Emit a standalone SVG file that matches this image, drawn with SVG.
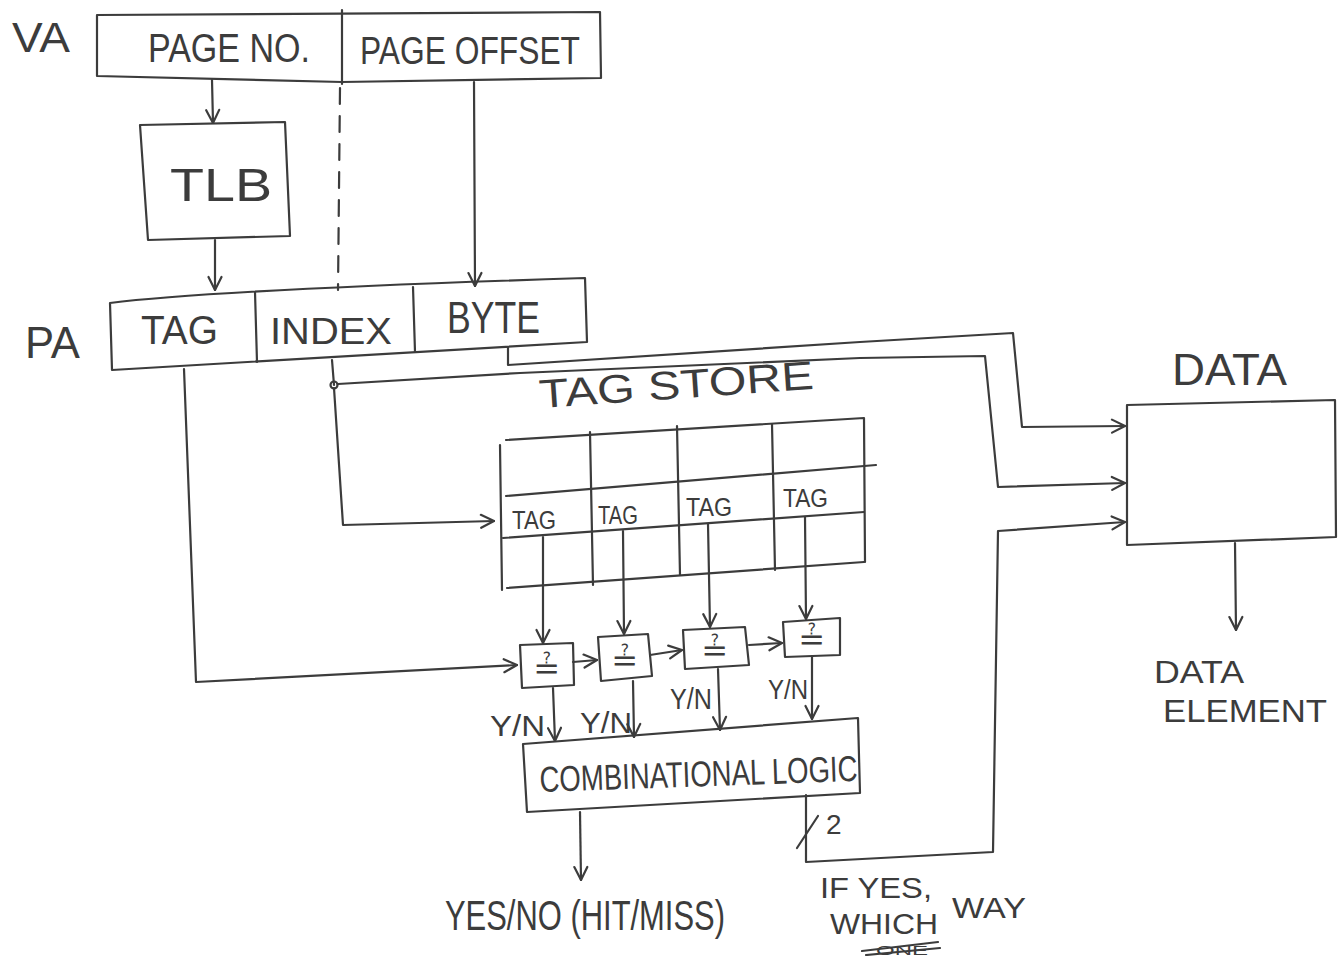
<svg xmlns="http://www.w3.org/2000/svg" width="1342" height="956" viewBox="0 0 1342 956">
<style>
.s{fill:none;stroke:#3c3c3c;stroke-width:2.2;stroke-linecap:round;stroke-linejoin:round}
.d{stroke-dasharray:16 12}
.t{font-family:"Liberation Sans",Arial,sans-serif;fill:#3c3c3c}
.q{font-family:"DejaVu Sans",sans-serif;fill:#3c3c3c;font-size:32px}
.a{marker-end:url(#arr)}
</style>
<defs>
<marker id="arr" viewBox="0 0 16 16" refX="15" refY="8" markerWidth="16" markerHeight="16" markerUnits="userSpaceOnUse" orient="auto">
<path d="M2,1.5 L15,8 L2,14.5" fill="none" stroke="#3c3c3c" stroke-width="2.2" stroke-linecap="round" stroke-linejoin="round"/>
</marker>
</defs>
<rect width="1342" height="956" fill="#ffffff"/>

<g id="va">
<text class="t" x="12" y="52" font-size="42" textLength="58" lengthAdjust="spacingAndGlyphs">VA</text>
<path class="s" d="M97,15 L600,12 L601,78 L342,82 L97,76 Z"/>
<path class="s" d="M342,10 L342,84"/>
<text class="t" x="148" y="62" font-size="40" textLength="162" lengthAdjust="spacingAndGlyphs">PAGE NO.</text>
<text class="t" x="360" y="64" font-size="38" textLength="220" lengthAdjust="spacingAndGlyphs">PAGE OFFSET</text>
</g>

<g id="tlb">
<path class="s" d="M140,125 L285,122 L290,236 L148,240 Z"/>
<text class="t" x="170" y="201" font-size="47" textLength="102" lengthAdjust="spacingAndGlyphs">TLB</text>
</g>

<g id="pa">
<text class="t" x="25" y="358" font-size="45" textLength="55" lengthAdjust="spacingAndGlyphs">PA</text>
<path class="s" d="M110,303 Q210,290 585,278 L587,342 L112,370 Z"/>
<path class="s" d="M255,292 L257,362"/>
<path class="s" d="M413,287 L415,352"/>
<text class="t" x="141" y="344" font-size="40" textLength="77" lengthAdjust="spacingAndGlyphs">TAG</text>
<text class="t" x="270" y="344" font-size="36" textLength="122" lengthAdjust="spacingAndGlyphs">INDEX</text>
<text class="t" x="447" y="333" font-size="45" textLength="93" lengthAdjust="spacingAndGlyphs">BYTE</text>
</g>

<g id="tag-store">
<text class="t" x="540" y="408" font-size="40" textLength="275" lengthAdjust="spacingAndGlyphs" transform="rotate(-4 540 408)">TAG STORE</text>
<path class="s" d="M506,440 L864,418 L865,562"/>
<path class="s" d="M500,445 L502,590"/>
<path class="s" d="M507,588 L864,562"/>
<path class="s" d="M506,496 L876,465"/>
<path class="s" d="M503,538 L864,512"/>
<path class="s" d="M590,432 L593,585"/>
<path class="s" d="M677,426 L680,575"/>
<path class="s" d="M772,424 L775,570"/>
<text class="t" x="512" y="529" font-size="26" textLength="44" lengthAdjust="spacingAndGlyphs">TAG</text>
<text class="t" x="598" y="524" font-size="26" textLength="40" lengthAdjust="spacingAndGlyphs">TAG</text>
<text class="t" x="686" y="516" font-size="26" textLength="46" lengthAdjust="spacingAndGlyphs">TAG</text>
<text class="t" x="783" y="507" font-size="26" textLength="45" lengthAdjust="spacingAndGlyphs">TAG</text>
</g>

<g id="cmp1">
<path class="s" d="M520,645 L573,643 L574,685 L522,688 Z"/>
<text class="q" x="547" y="679" text-anchor="middle">≟</text>
</g>
<g id="cmp2">
<path class="s" d="M598,637 L648,634 L652,676 L601,681 Z"/>
<text class="q" x="625" y="671" text-anchor="middle">≟</text>
</g>
<g id="cmp3">
<path class="s" d="M683,630 L745,627 L749,665 L685,669 Z"/>
<text class="q" x="715" y="661" text-anchor="middle">≟</text>
</g>
<g id="cmp4">
<path class="s" d="M783,622 L840,618 L840,655 L785,657 Z"/>
<text class="q" x="812" y="650" text-anchor="middle">≟</text>
</g>

<g id="yn-labels">
<text class="t" x="490" y="736" font-size="30" textLength="55" lengthAdjust="spacingAndGlyphs">Y/N</text>
<text class="t" x="580" y="733" font-size="30" textLength="52" lengthAdjust="spacingAndGlyphs">Y/N</text>
<text class="t" x="670" y="709" font-size="30" textLength="42" lengthAdjust="spacingAndGlyphs">Y/N</text>
<text class="t" x="768" y="699" font-size="28" textLength="40" lengthAdjust="spacingAndGlyphs">Y/N</text>
</g>

<g id="comb-logic">
<path class="s" d="M523,744 L858,718 L860,793 L527,812 Z"/>
<text class="t" x="540" y="792" font-size="36" textLength="318" lengthAdjust="spacingAndGlyphs" transform="rotate(-2 540 792)">COMBINATIONAL LOGIC</text>
</g>

<g id="hit-miss">
<text class="t" x="445" y="930" font-size="42" textLength="280" lengthAdjust="spacingAndGlyphs">YES/NO (HIT/MISS)</text>
</g>

<g id="which-way">
<text class="t" x="820" y="898" font-size="30" textLength="112" lengthAdjust="spacingAndGlyphs">IF YES,</text>
<text class="t" font-size="30"><tspan x="830" y="934" textLength="108" lengthAdjust="spacingAndGlyphs">WHICH</tspan><tspan x="952" y="918" textLength="74" lengthAdjust="spacingAndGlyphs">WAY</tspan></text>
<text class="t" x="876" y="955" font-size="13" textLength="52" lengthAdjust="spacingAndGlyphs">ONE</text>
<path class="s" d="M862,951 L938,942 M866,955 L940,948"/>
</g>

<g id="data">
<text class="t" x="1172" y="385" font-size="44" textLength="115" lengthAdjust="spacingAndGlyphs">DATA</text>
<path class="s" d="M1127,405 L1335,400 L1336,537 L1127,545 Z"/>
</g>

<g id="data-element">
<text class="t" x="1154" y="683" font-size="32" textLength="90" lengthAdjust="spacingAndGlyphs">DATA</text>
<text class="t" x="1163" y="722" font-size="32" textLength="164" lengthAdjust="spacingAndGlyphs">ELEMENT</text>
</g>

<g id="connectors">
<path class="s a" d="M212,80 L213,123"/>
<path class="s a" d="M215,240 L215,290"/>
<path class="s a" d="M474,82 L475,286"/>
<path class="s d" d="M340,88 L338,290"/>
<path class="s a" d="M184,369 L196,682 L517,665"/>
<path class="s" d="M332,360 L334,385"/>
<circle cx="334" cy="385" r="3.5" class="s"/>
<path class="s a" d="M334,388 L343,525 L494,521"/>
<path class="s a" d="M338,384 L520,373 L860,358 L985,356 L998,487 L1125,483"/>
<path class="s a" d="M508,347 L508,365 L860,342 L1013,333 L1022,427 L1125,426"/>
<path class="s a" d="M543,537 L543,643"/>
<path class="s a" d="M623,531 L624,634"/>
<path class="s a" d="M708,524 L710,627"/>
<path class="s a" d="M805,517 L806,619"/>
<path class="s a" d="M573,662 L597,660"/>
<path class="s a" d="M650,655 L682,650"/>
<path class="s a" d="M749,645 L782,643"/>
<path class="s a" d="M553,688 L555,741"/>
<path class="s a" d="M633,681 L634,737"/>
<path class="s a" d="M718,669 L720,730"/>
<path class="s a" d="M812,657 L812,719"/>
<path class="s a" d="M580,812 L581,880"/>
<path class="s a" d="M806,795 L806,862 L993,852 L998,531 L1125,522"/>
<path class="s" d="M797,848 L818,816"/>
<text class="t" x="826" y="834" font-size="28">2</text>
<path class="s a" d="M1235,543 L1236,630"/>
</g>
</svg>
